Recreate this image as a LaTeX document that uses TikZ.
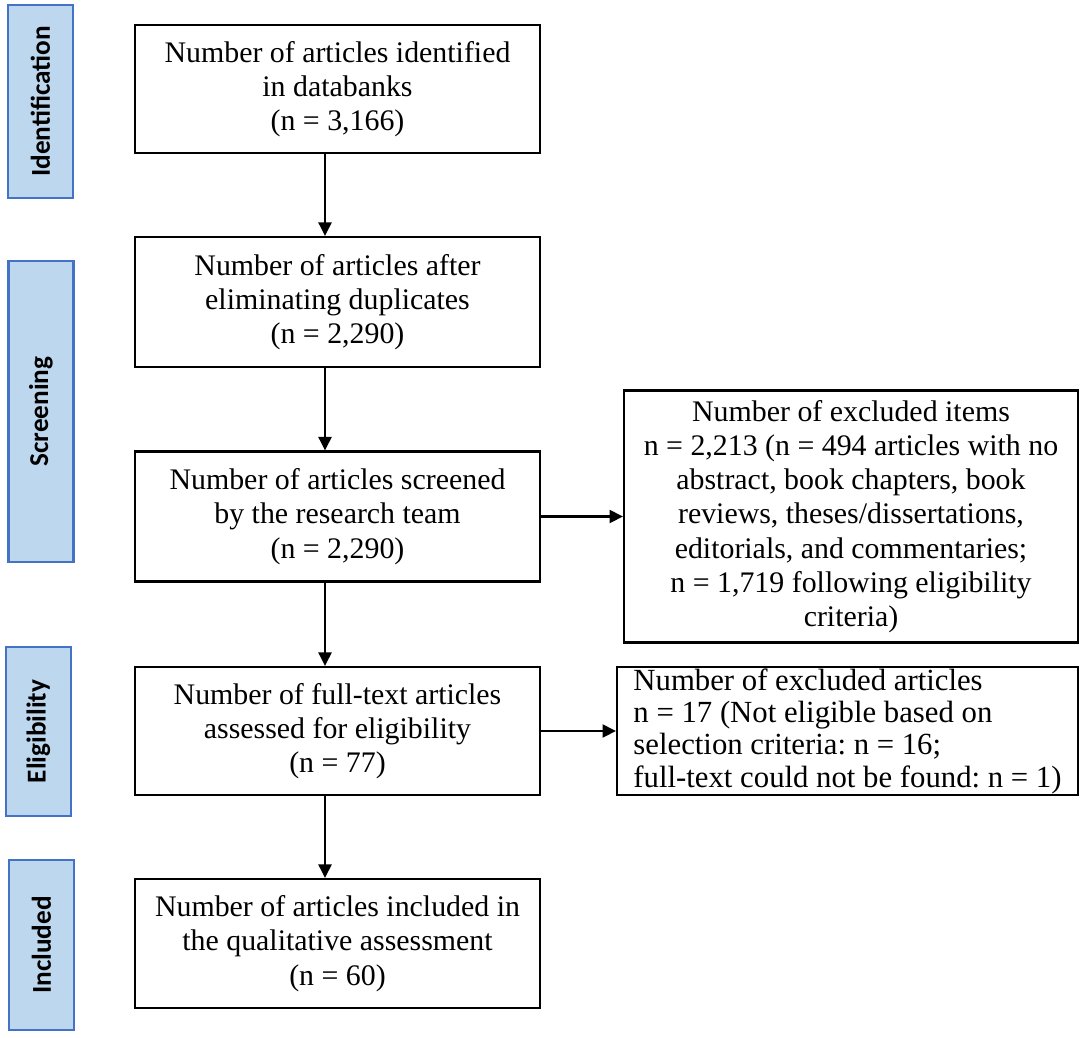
\documentclass[tikz,border=0pt]{standalone}
\usepackage{fontspec}
\setmainfont{Liberation Serif}
\newfontfamily\phasefont{Carlito}
\usepackage{tikz}
\usetikzlibrary{arrows.meta}
\definecolor{phase fill}{RGB}{189,215,238}
\definecolor{phase line}{RGB}{68,114,196}
\frenchspacing

\tikzset{
	stepbox/.style = {draw=black, line width=1.2pt, fill=white, inner sep=0pt,
		align=center, font=\fontsize{17}{19.5}\selectfont},
	phasebox/.style = {draw=phase line, fill=phase fill, line width=1.2pt,
		rotate=90, inner sep=0pt, minimum height=1.3cm,
		font=\phasefont\bfseries\fontsize{15.5}{17}\selectfont},
	flow/.style = {line width=1.2pt, -{Triangle[length=2.7mm,width=2.6mm]}}
}

\begin{document}
\begin{tikzpicture}[x=0.02cm, y=-0.02cm]
		\useasboundingbox (0, 0) rectangle (1084, 1037);
		% phases on the left
		\node[phasebox, minimum width=3.86cm] (sident) at (40.5, 101.5) {Identification};
		\node[phasebox, minimum width=6.02cm] (sscreen) at (41, 411.5) {Screening};
		\node[phasebox, minimum width=3.38cm] (selig) at (38.5, 731.5) {Eligibility};
		\node[phasebox, minimum width=3.40cm] (sincl) at (41.5, 945) {Included};
		% main column
		\node[stepbox, minimum width=8.1cm, minimum height=2.56cm] (ident) at (337.5, 89)
			{Number of articles identified\\in databanks\\(n = 3,166)};
		\node[stepbox, minimum width=8.1cm, minimum height=2.6cm] (dupl) at (337.5, 302)
			{Number of articles after\\eliminating duplicates\\(n = 2,290)};
		\node[stepbox, minimum width=8.1cm, minimum height=2.6cm] (screen) at (337.5, 516.5)
			{Number of articles screened\\by the research team\\(n = 2,290)};
		\node[stepbox, minimum width=8.1cm, minimum height=2.56cm] (fulltext) at (337.5, 731)
			{Number of full-text articles\\assessed for eligibility\\(n = 77)};
		\node[stepbox, minimum width=8.1cm, minimum height=2.58cm] (incl) at (337.5, 943.5)
			{Number of articles included in\\the qualitative assessment\\(n = 60)};
		% exclusions on the right
		\node[stepbox, minimum width=9.08cm, minimum height=5.04cm] (exitems) at (851, 516.5)
			{Number of excluded items\\n = 2,213 (n = 494 articles with no\\abstract, book chapters, book\\reviews, theses/dissertations,\\editorials, and commentaries;\\n = 1,719 following eligibility\\criteria)};
		\node[stepbox, minimum width=9.22cm, minimum height=2.56cm, align=left,
			font=\fontsize{17.5}{18.4}\selectfont] (exarts) at (847.5, 731)
			{Number of excluded articles\\n = 17 (Not eligible based on\\selection criteria: n = 16;\\full-text could not be found: n = 1)};
		% arrows
		\draw[flow] ([xshift=-0.25cm]ident.south) -- ([xshift=-0.25cm]dupl.north);
		\draw[flow] ([xshift=-0.25cm]dupl.south) -- ([xshift=-0.25cm]screen.north);
		\draw[flow] ([xshift=-0.25cm]screen.south) -- ([xshift=-0.25cm]fulltext.north);
		\draw[flow] ([xshift=-0.25cm]fulltext.south) -- ([xshift=-0.25cm]incl.north);
		\draw[flow] (screen.east) -- (exitems.west);
		\draw[flow] (fulltext.east) -- (exarts.west);
	\end{tikzpicture}
\end{document}
